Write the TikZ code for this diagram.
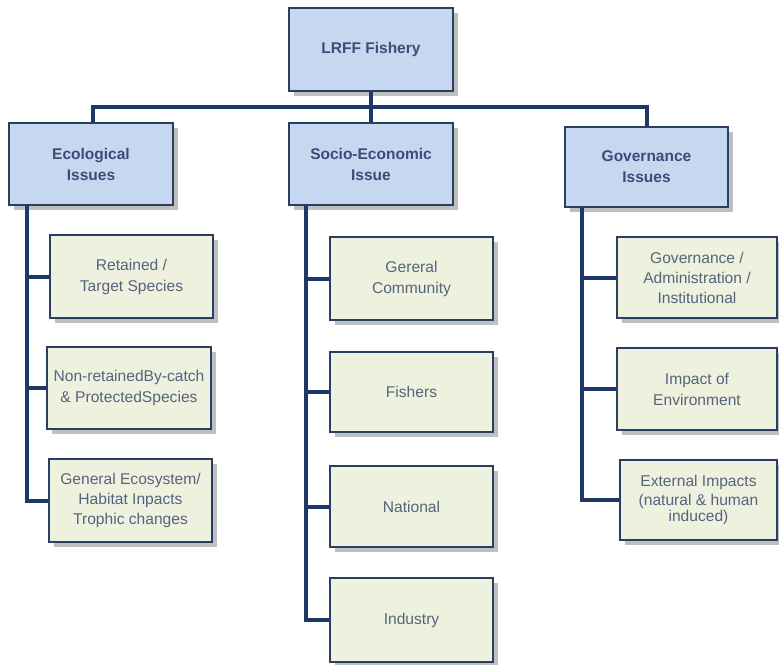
\documentclass[tikz,border=0pt]{standalone}
\usepackage{fontspec}
\setmainfont{Liberation Sans}
\usetikzlibrary{shadows}
\definecolor{topfill}{HTML}{C6D8EF}
\definecolor{subfill}{HTML}{EEF1DE}
\definecolor{boxline}{HTML}{2C3D63}
\definecolor{cattext}{HTML}{3A4C78}
\definecolor{subtext}{HTML}{55647E}
\definecolor{conn}{HTML}{1D3767}
\tikzset{
  shad/.style={drop shadow={shadow xshift=5pt,shadow yshift=-5pt,fill=black!50,opacity=0.5}},
  catbox/.style={draw=boxline,line width=1.6pt,fill=topfill,shad,minimum width=164pt,minimum height=82pt,
    align=center,text=cattext,font=\fontsize{15.5}{21}\selectfont\bfseries,inner sep=2pt},
  subbox/.style={draw=boxline,line width=1.6pt,fill=subfill,shad,minimum width=163pt,minimum height=82pt,
    align=center,text=subtext,font=\fontsize{15.6}{21}\selectfont,inner sep=1pt},
  link/.style={draw=conn,line width=4pt}
}
\begin{document}
\begin{tikzpicture}[x=1pt,y=-1pt]
\useasboundingbox (0,0) rectangle (779,664);
\coordinate (hj) at (371,107);
\coordinate (es) at (27,195);
\coordinate (ms) at (306,195);
\coordinate (gs) at (582,195);
% nodes
\node[catbox,minimum height=83pt] (top) at (371,49.5) {LRFF Fishery};
\node[catbox] (eco) at (91,164) {Ecological\\Issues};
\node[catbox] (soc) at (371,164) {Socio-Economic\\Issue};
\node[catbox,minimum width=163pt,minimum height=80pt] (gov) at (646.5,167) {Governance\\Issues};
\node[subbox,minimum height=83pt] (r1) at (131.5,276.5) {Retained /\\Target Species};
\node[subbox,minimum width=164pt] (r2) at (129,388) {Non-retainedBy-catch\\\& ProtectedSpecies};
\node[subbox,minimum height=83pt,font=\fontsize{15.6}{20}\selectfont] (r3) at (130.5,500.5) {General Ecosystem/\\Habitat Inpacts\\Trophic changes};
\node[subbox,minimum height=83pt] (m1) at (411.5,278.5) {Gereral\\Community};
\node[subbox,minimum height=80pt] (m2) at (411.5,392) {Fishers};
\node[subbox,minimum height=81pt] (m3) at (411.5,506.5) {National};
\node[subbox,minimum height=84pt] (m4) at (411.5,620) {Industry};
\node[subbox,minimum width=160pt,minimum height=81pt,font=\fontsize{15.6}{20}\selectfont] (g1) at (697,277.5) {Governance /\\Administration /\\Institutional};
\node[subbox,minimum width=160pt] (g2) at (697,389) {Impact of\\Environment};
\node[subbox,minimum width=157pt,minimum height=80pt,font=\fontsize{15.6}{20}\selectfont] (g3) at (698.5,500) {External Impacts\\[-1pt](natural \& human\\[-4pt]induced)};
% connectors
\draw[link] (top.south) -- (hj);
\draw[link] (hj) -- (soc.north);
\draw[link] ([xshift=2pt]eco.north) |- (hj) -| ([xshift=0.5pt]gov.north);
\draw[link] (eco.south -| es) |- (r3.west);
\draw[link] (es |- r1.west) -- (r1.west);
\draw[link] (es |- r2.west) -- (r2.west);
\draw[link] (soc.south -| ms) |- (m4.west);
\draw[link] (ms |- m1.west) -- (m1.west);
\draw[link] (ms |- m2.west) -- (m2.west);
\draw[link] (ms |- m3.west) -- (m3.west);
\draw[link] (gov.south -| gs) |- (g3.west);
\draw[link] (gs |- g1.west) -- (g1.west);
\draw[link] (gs |- g2.west) -- (g2.west);
\end{tikzpicture}
\end{document}
